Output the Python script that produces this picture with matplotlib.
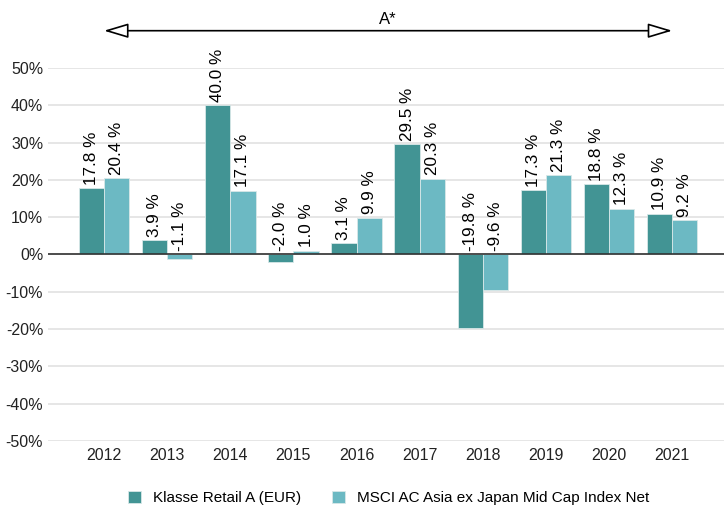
import numpy as np
import matplotlib.pyplot as plt

plt.rcParams['font.family'] = ['Liberation Sans', 'DejaVu Sans']

years = ['2012', '2013', '2014', '2015', '2016', '2017', '2018', '2019', '2020', '2021']
fund = [17.8, 3.9, 40.0, -2.0, 3.1, 29.5, -19.8, 17.3, 18.8, 10.9]
index = [20.4, -1.1, 17.1, 1.0, 9.9, 20.3, -9.6, 21.3, 12.3, 9.2]
names = ['Klasse Retail A (EUR)', 'MSCI AC Asia ex Japan Mid Cap Index Net']
colors = ['#429494', '#6cb9c3']

fig = plt.figure(figsize=(7.24, 5.09), dpi=100)
ax = fig.add_axes([48 / 724, 1 - 441 / 509, 1 - 48 / 724, (441 - 68) / 509])

x = np.arange(len(years))
w = 0.4
for k, vals in enumerate([fund, index]):
    pos = x - w / 2 + k * w
    ax.bar(pos, vals, w, color=colors[k], edgecolor='#d8e8e8', linewidth=0.6, label=names[k], zorder=2)
    for p, v in zip(pos, vals):
        base = max(v, 0) + 0.9
        ax.text(p, base, ('%.1f %%' % v), rotation=90, ha='center', va='bottom', fontsize=12.3, zorder=3)

ax.set_ylim(-50, 50)
ax.set_xlim(-0.887, 9.82)
ax.set_yticks(np.arange(-50, 51, 10))
ax.set_yticklabels(['%d%%' % t for t in np.arange(-50, 51, 10)])
ax.set_xticks(x)
ax.set_xticklabels(years)
ax.tick_params(axis='both', length=0, labelsize=11.5, colors='#222222')
ax.tick_params(axis='x', pad=5)
ax.grid(axis='y', color='#e2e2e2', linewidth=1.2, zorder=0)
ax.axhline(0, color='#333333', linewidth=1.2, zorder=3)
for s in ax.spines.values():
    s.set_visible(False)

# period arrow above the chart
ax.annotate('', xy=(x[-1], 60.0), xytext=(x[0], 60.0), annotation_clip=False,
            arrowprops=dict(arrowstyle='<|-|>,head_length=1.5,head_width=0.45', fc='white', ec='black', lw=1.2,
                            shrinkA=0, shrinkB=0))
ax.text((x[0] + x[-1]) / 2, 61.0, 'A*', ha='center', va='bottom', fontsize=12, clip_on=False)

fig.legend(loc='center', bbox_to_anchor=(0.537, 1 - 498 / 509), ncol=2, frameon=False, fontsize=11,
           borderpad=0, handlelength=0.85, handleheight=0.85, handletextpad=0.8, columnspacing=2.0)

fig.savefig('out.png', dpi=100)
